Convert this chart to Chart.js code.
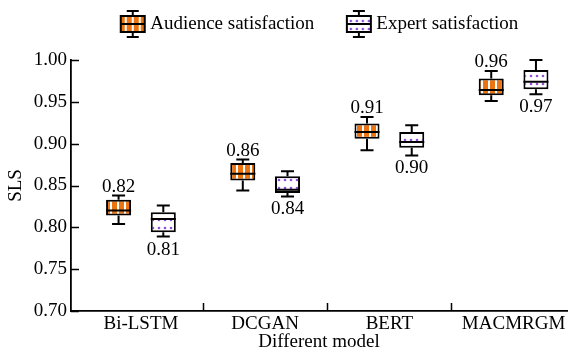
<!DOCTYPE html>
<html>
<head>
<meta charset="utf-8">
<script src="https://cdn.jsdelivr.net/npm/chart.js@4/dist/chart.umd.min.js"></script>
<style>
html, body { margin: 0; padding: 0; background: #fff; }
canvas { display: block; }
</style>
</head>
<body>
<canvas id="c" width="571" height="351"></canvas>
<script>
// Categories and series
const models = ['Bi-LSTM', 'DCGAN', 'BERT', 'MACMRGM'];
const seriesNames = ['Audience satisfaction', 'Expert satisfaction'];

// Audience satisfaction: five-number summary per model
const audienceMin    = [0.804, 0.844, 0.892, 0.951];
const audienceQ1     = [0.814, 0.856, 0.906, 0.958];
const audienceMedian = [0.820, 0.864, 0.914, 0.964];
const audienceQ3     = [0.833, 0.877, 0.924, 0.978];
const audienceMax    = [0.838, 0.881, 0.932, 0.987];

// Expert satisfaction: five-number summary per model
const expertMin    = [0.789, 0.837, 0.886, 0.959];
const expertQ1     = [0.794, 0.841, 0.895, 0.965];
const expertMedian = [0.810, 0.8449, 0.902, 0.974];
const expertQ3     = [0.818, 0.861, 0.914, 0.988];
const expertMax    = [0.826, 0.867, 0.922, 1.000];

// Value axis
const yMin = 0.70, yMax = 1.00, yStep = 0.05;

const FONT = "'Liberation Serif', 'Times New Roman', serif";
const FS = 19;
const ORANGE = '#EC7410';
const PURPLE = '#9050DC';

const canvas = document.getElementById('c');
const ctx0 = canvas.getContext('2d');

// Fill patterns: orange with white vertical stripes, white with purple dots
function stripeTile() {
  const c = document.createElement('canvas');
  c.width = 7; c.height = 7;
  const g = c.getContext('2d');
  g.fillStyle = ORANGE; g.fillRect(0, 0, 7, 7);
  g.fillStyle = '#ffffff'; g.fillRect(5, 0, 2, 7);
  return c;
}
function dotTile() {
  const c = document.createElement('canvas');
  c.width = 6; c.height = 8;
  const g = c.getContext('2d');
  g.fillStyle = '#ffffff'; g.fillRect(0, 0, 6, 8);
  g.fillStyle = PURPLE;
  g.beginPath(); g.arc(3, 4, 1.3, 0, Math.PI * 2); g.fill();
  return c;
}
const stripeFill = ctx0.createPattern(stripeTile(), 'repeat');
const dotFill = ctx0.createPattern(dotTile(), 'repeat');

// Legend glyphs: a small box plot drawn with the same fill,
// placed toward the right of a wider transparent tile
function legendGlyph(tile) {
  const c = document.createElement('canvas');
  c.width = 60; c.height = 30;
  const g = c.getContext('2d');
  const L = 29, cx = L + 12;
  g.strokeStyle = '#000'; g.lineWidth = 2;
  g.beginPath();
  g.moveTo(cx, 2); g.lineTo(cx, 28);
  g.moveTo(cx - 6, 2); g.lineTo(cx + 6, 2);
  g.moveTo(cx - 6, 28); g.lineTo(cx + 6, 28);
  g.stroke();
  g.fillStyle = g.createPattern(tile(), 'repeat');
  g.fillRect(L, 7, 24, 16);
  g.strokeRect(L, 7, 24, 16);
  g.beginPath(); g.moveTo(L, 15); g.lineTo(L + 24, 15); g.stroke();
  return c;
}
const glyphs = [legendGlyph(stripeTile), legendGlyph(dotTile)];

const stats = [
  { min: audienceMin, q1: audienceQ1, med: audienceMedian, q3: audienceQ3, max: audienceMax, above: true },
  { min: expertMin, q1: expertQ1, med: expertMedian, q3: expertQ3, max: expertMax, above: false }
];

// Whiskers, medians and median labels on top of the box bars
const boxExtras = {
  id: 'boxExtras',
  afterDatasetsDraw(chart) {
    const ctx = chart.ctx;
    const y = chart.scales.y;
    chart.data.datasets.forEach((ds, di) => {
      const s = stats[di];
      chart.getDatasetMeta(di).data.forEach((bar, i) => {
        const x = bar.x;
        const hw = bar.width / 2;
        const cap = bar.width * 0.26;
        const pMin = y.getPixelForValue(s.min[i]);
        const pQ1 = y.getPixelForValue(s.q1[i]);
        const pMed = y.getPixelForValue(s.med[i]);
        const pQ3 = y.getPixelForValue(s.q3[i]);
        const pMax = y.getPixelForValue(s.max[i]);
        ctx.save();
        ctx.strokeStyle = '#000';
        ctx.lineWidth = 2;
        ctx.beginPath();
        ctx.moveTo(x, pQ3); ctx.lineTo(x, pMax);
        ctx.moveTo(x - cap, pMax); ctx.lineTo(x + cap, pMax);
        ctx.moveTo(x, pQ1); ctx.lineTo(x, pMin);
        ctx.moveTo(x - cap, pMin); ctx.lineTo(x + cap, pMin);
        ctx.moveTo(x - hw, pMed); ctx.lineTo(x + hw, pMed);
        ctx.stroke();
        ctx.fillStyle = '#000';
        ctx.font = FS + 'px ' + FONT;
        ctx.textAlign = 'center';
        ctx.textBaseline = 'alphabetic';
        if (s.above) {
          ctx.fillText(s.med[i].toFixed(2), x, pMax - 4);
        } else {
          ctx.fillText(s.med[i].toFixed(2), x, pMin + 18);
        }
        ctx.restore();
      });
    });
  }
};

// Tick marks pointing into the plot area
const inwardTicks = {
  id: 'inwardTicks',
  afterDraw(chart) {
    const { ctx, scales: { x, y } } = chart;
    ctx.save();
    ctx.strokeStyle = '#000';
    ctx.lineWidth = 1.5;
    ctx.beginPath();
    y.ticks.forEach(t => {
      const py = Math.round(y.getPixelForValue(t.value)) + 0.5;
      ctx.moveTo(y.right, py); ctx.lineTo(y.right + 8, py);
    });
    for (let i = 1; i <= models.length; i++) {
      const px = Math.round(x.getPixelForValue(i - 0.5)) + 0.5;
      ctx.moveTo(px, x.top); ctx.lineTo(px, x.top - 8);
    }
    ctx.stroke();
    ctx.restore();
  }
};

// Frame layout: taller legend band, legend nudged right,
// and a slightly wider margin before the first category
const frameLayout = {
  id: 'frameLayout',
  afterInit(chart) {
    const lg = chart.legend;
    const fit = lg.fit.bind(lg);
    lg.fit = function () { fit(); this.height = 60; };
  },
  afterLayout(chart) {
    chart.legend.left += 54;
    const x = chart.scales.x;
    x._startValue = -0.563;
    x._valueRange = models.length - 1 + 0.563 + 0.43;
  }
};

new Chart(canvas, {
  type: 'bar',
  data: {
    labels: models,
    datasets: [
      {
        label: seriesNames[0],
        data: models.map((_, i) => [audienceQ1[i], audienceQ3[i]]),
        backgroundColor: stripeFill,
        borderColor: '#000',
        borderWidth: 2,
        borderSkipped: false
      },
      {
        label: seriesNames[1],
        data: models.map((_, i) => [expertQ1[i], expertQ3[i]]),
        backgroundColor: dotFill,
        borderColor: '#000',
        borderWidth: 2,
        borderSkipped: false
      }
    ]
  },
  options: {
    responsive: false,
    animation: false,
    devicePixelRatio: 1,
    layout: { padding: { top: 0, right: 4, left: 0, bottom: 0 } },
    categoryPercentage: 0.72,
    barPercentage: 0.56,
    plugins: {
      tooltip: { enabled: false },
      legend: {
        display: true,
        position: 'top',
        labels: {
          usePointStyle: true,
          pointStyleWidth: 38,
          padding: 14.5,
          color: '#000',
          font: { family: FONT, size: FS },
          generateLabels: chart => chart.data.datasets.map((ds, i) => ({
            text: ds.label,
            pointStyle: glyphs[i],
            datasetIndex: i,
            fillStyle: 'transparent',
            strokeStyle: 'transparent',
            lineWidth: 0,
            hidden: false,
            fontColor: '#000'
          }))
        },
        onClick: () => {}
      }
    },
    scales: {
      x: {
        type: 'category',
        offset: true,
        grid: { display: false, drawTicks: false },
        border: { display: true, color: '#000', width: 1.8 },
        ticks: { color: '#000', font: { family: FONT, size: FS }, padding: 2, maxRotation: 0 },
        title: { display: true, text: 'Different model', color: '#000', font: { family: FONT, size: FS }, padding: { top: 0, bottom: -2 } },
        afterFit: s => { s.height = 40; }
      },
      y: {
        min: yMin,
        max: yMax,
        grid: { display: false, drawTicks: false },
        border: { display: true, color: '#000', width: 1.8 },
        ticks: { stepSize: yStep, color: '#000', font: { family: FONT, size: FS }, padding: 4, callback: v => v.toFixed(2) },
        title: { display: true, text: 'SLS', color: '#000', font: { family: FONT, size: FS }, padding: { top: 5, bottom: 0 } },
        afterFit: s => { s.width = 71; }
      }
    }
  },
  plugins: [boxExtras, inwardTicks, frameLayout]
});
</script>
</body>
</html>
